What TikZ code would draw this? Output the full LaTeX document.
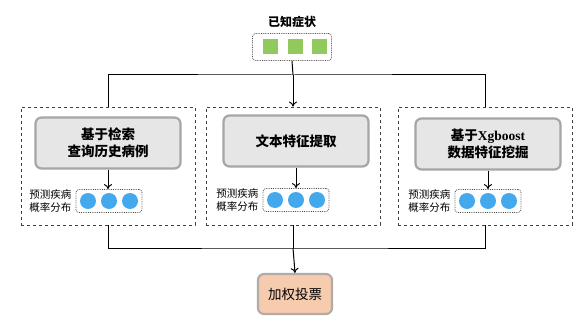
\documentclass[tikz,border=0pt]{standalone}
\usepackage{fontspec}
\usetikzlibrary{arrows.meta}
\setmainfont{Noto Sans CJK SC}
\newfontfamily\xgbfont{Liberation Serif}
\definecolor{symgreen}{HTML}{92C95E}
\definecolor{probblue}{HTML}{44A8EC}
\definecolor{methodfill}{HTML}{E6E6E6}
\definecolor{methoddraw}{HTML}{A6A6A6}
\definecolor{votefill}{HTML}{F6CBAE}
\definecolor{votedraw}{HTML}{B3ABA5}
\tikzset{
  groupbox/.style={draw=black!75, dashed, line width=0.9pt, minimum width=174, minimum height=118, inner sep=0pt},
  methodbox/.style={draw=methoddraw, fill=methodfill, line width=2.2pt, rounded corners=6pt,
                    minimum width=145, minimum height=51, font=\bfseries\fontsize{13.5}{17}\selectfont, align=center},
  dotbox/.style={draw=black!70, densely dotted, line width=0.8pt, rounded corners=3pt, inner sep=0pt},
  symsq/.style={fill=symgreen, minimum size=15, inner sep=0pt},
  probdot/.style={circle, fill=probblue, minimum size=16, inner sep=0pt},
  problabel/.style={font=\fontsize{10.5}{12.5}\selectfont, align=left, inner sep=0pt},
  votebox/.style={draw=votedraw, fill=votefill, line width=2.2pt, rounded corners=6pt,
                  minimum width=74, minimum height=40, font=\fontsize{13.5}{17}\selectfont},
  link/.style={line width=1pt},
  arrow/.style={link, -{To[length=5pt,width=8pt]}},
}

\begin{document}
\begin{tikzpicture}[x=1pt, y=-1pt]
    \useasboundingbox (0,0) rectangle (580,331);
    % known symptoms
    \node[font=\bfseries\fontsize{12}{14}\selectfont] (title) at (292,22) {已知症状};
    \node[dotbox, minimum width=79, minimum height=27] (sym) at (292,47) {};
    \foreach \x/\n in {270/1, 295/2, 319/3}
      \node[symsq] (sq\n) at (\x,47) {};
    % three methods
    \node[groupbox] (grpL) at (108,166) {};
    \node[groupbox] (grpM) at (293,166) {};
    \node[groupbox] (grpR) at (485,166) {};
    \node[methodbox] (mthL) at (108,143) {基于检索\\查询历史病例};
    \node[methodbox] (mthM) at (296,141) {文本特征提取};
    \node[methodbox] (mthR) at (488,144) {基于{\xgbfont Xgboost}\\数据特征挖掘};
    \foreach \g/\cx/\cy in {L/109/201, M/296/200, R/488/201} {
      \node[dotbox, minimum width=66, minimum height=23] (prb\g) at (\cx,\cy) {};
      \node[probdot] (dot\g1) at (\cx-21,\cy) {};
      \node[probdot] (dot\g2) at (\cx,\cy) {};
      \node[probdot] (dot\g3) at (\cx+21,\cy) {};
      \node[problabel, anchor=east] (lbl\g) at ([xshift=-4pt]prb\g.west) {预测疾病\\概率分布};
      \draw[arrow] (mth\g.south) -- (prb\g.north -| mth\g.south);
    }
    % voting
    \node[votebox] (vote) at (295,294) {加权投票};
    \coordinate (split) at (293,75);
    \coordinate (merge) at (293,248);
    \draw[link] (sym.south) -- (split);
    \draw[link] (grpL.north) |- (split) -| (grpR.north);
    \draw[arrow] (split) -- (grpM.north);
    \draw[link] (grpL.south) |- (merge) -| (grpR.south);
    \draw[link] (grpM.south) -- (merge);
    \draw[arrow] (merge) -- (vote.north);
\end{tikzpicture}
\end{document}
